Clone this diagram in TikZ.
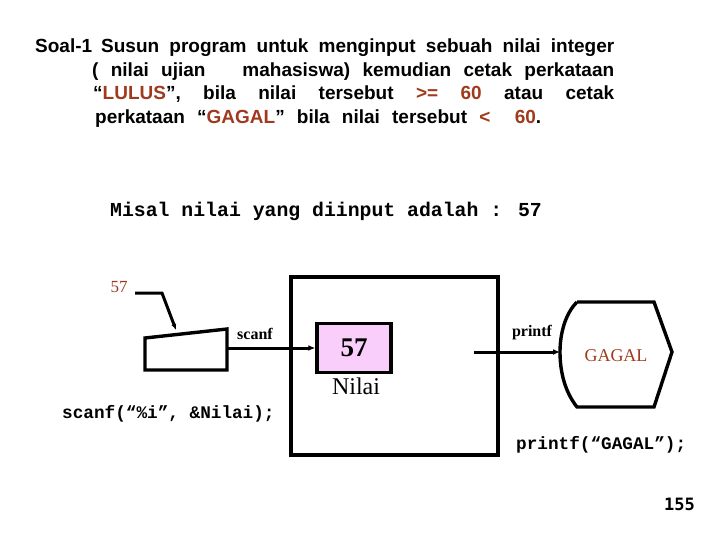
\documentclass[tikz,border=0pt]{standalone}
\usepackage{fontspec}
\setmainfont{Liberation Serif}
\newfontfamily\titlefont{Liberation Sans}
\newfontfamily\codefont{Liberation Mono}
\newfontfamily\numfont{DejaVu Sans Mono}
\usetikzlibrary{arrows.meta}
\definecolor{brickred}{RGB}{160,58,30}
\definecolor{pinkfill}{RGB}{250,206,250}
\tikzset{
  heavy line/.style={line width=3.4pt},
  flow/.style={line width=3pt,-{Latex[length=7pt,width=6pt]}},
  titleline/.style={anchor=base west,inner sep=0pt,font=\titlefont\bfseries\fontsize{19}{22}\selectfont},
  code/.style={inner sep=0pt,font=\codefont\bfseries\fontsize{17.7}{20}\selectfont},
  lbl/.style={inner sep=0pt,font=\bfseries\fontsize{16}{18}\selectfont},
}
\begin{document}
\begin{tikzpicture}[x=1pt,y=-1pt]
\useasboundingbox (0,0) rectangle (720,540);
% title
\node[titleline] (t1) at (35,53) {Soal-1};
\node[titleline] (t1b) at (101,53) {\makebox[513pt][s]{Susun program untuk menginput sebuah nilai integer}};
\node[titleline] (t2) at (92,77) {\makebox[522pt][s]{( nilai ujian \ \ mahasiswa) kemudian cetak perkataan}};
\node[titleline] (t3) at (93,100) {\makebox[521pt][s]{“\textcolor{brickred}{LULUS}”, bila nilai tersebut \textcolor{brickred}{>= 60} atau cetak}};
\node[titleline] (t4) at (95,124) {\makebox[446pt][s]{perkataan “\textcolor{brickred}{GAGAL}” bila nilai tersebut \textcolor{brickred}{<\ \ 60}.}};
% misal
\node[inner sep=0pt,anchor=base west,font=\codefont\bfseries\fontsize{19.8}{22}\selectfont] (misal) at (110,216) {Misal nilai yang diinput adalah : 57};
% memory box
\node[draw,heavy line,minimum width=207pt,minimum height=178pt,inner sep=0pt] (mem) at (394.5,366) {};
% Nilai box
\node[draw,heavy line,fill=pinkfill,minimum width=74pt,minimum height=49pt,inner sep=0pt,font=\bfseries\fontsize{27}{30}\selectfont] (nilai) at (354,348) {57};
\node[inner sep=0pt,font=\fontsize{24}{26}\selectfont] (nilailbl) at (356,386) {Nilai};
% input device (trapezoid)
\coordinate (in1) at (145,338);
\coordinate (in2) at (227,329);
\coordinate (in3) at (227,370);
\coordinate (in4) at (145,370);
\draw[heavy line,line join=miter] (in1) -- (in2) -- (in3) -- (in4) -- cycle;
\coordinate (inR) at (227,348);
\coordinate (inTop) at (176,330);
% 57 input label
\node[inner sep=0pt,text=brickred,font=\fontsize{17}{18}\selectfont] (in57) at (119,287) {57};
\coordinate (bend) at (162,293);
\draw[line width=3pt,-{Latex[length=6pt,width=5pt]}] (135,293) -- (bend) -- (inTop);
% scanf arrow
\draw[flow] (inR) -- (nilai.west);
\node[lbl] (scanflbl) at (255,334) {scanf};
% output device
\coordinate (o1) at (577,302);
\coordinate (o2) at (654,302);
\coordinate (o3) at (672,352);
\coordinate (o4) at (654,407);
\coordinate (o5) at (577,407);
\coordinate (oL) at (560,352);
\draw[heavy line,line join=miter] (o1) -- (o2) -- (o3) -- (o4) -- (o5)
  .. controls (565,392) and (560,372) .. (oL)
  .. controls (560,334) and (565,314) .. (o1);
\node[inner sep=0pt,text=brickred,font=\fontsize{18}{20}\selectfont] (gagal) at (616,356) {GAGAL};
% printf arrow
\coordinate (pstart) at (474,352);
\draw[flow] (pstart) -- (oL);
\node[lbl] (printflbl) at (532,333) {printf};
% code lines
\node[code,anchor=base west] (scanfcode) at (62,418) {scanf(“\%i”, \&Nilai);};
\node[code,anchor=base west] (printfcode) at (516,449) {printf(“GAGAL”);};
% page number
\node[inner sep=0pt,anchor=base east,font=\numfont\bfseries\fontsize{17}{19}\selectfont] (page) at (695,510) {155};
\end{tikzpicture}
\end{document}
